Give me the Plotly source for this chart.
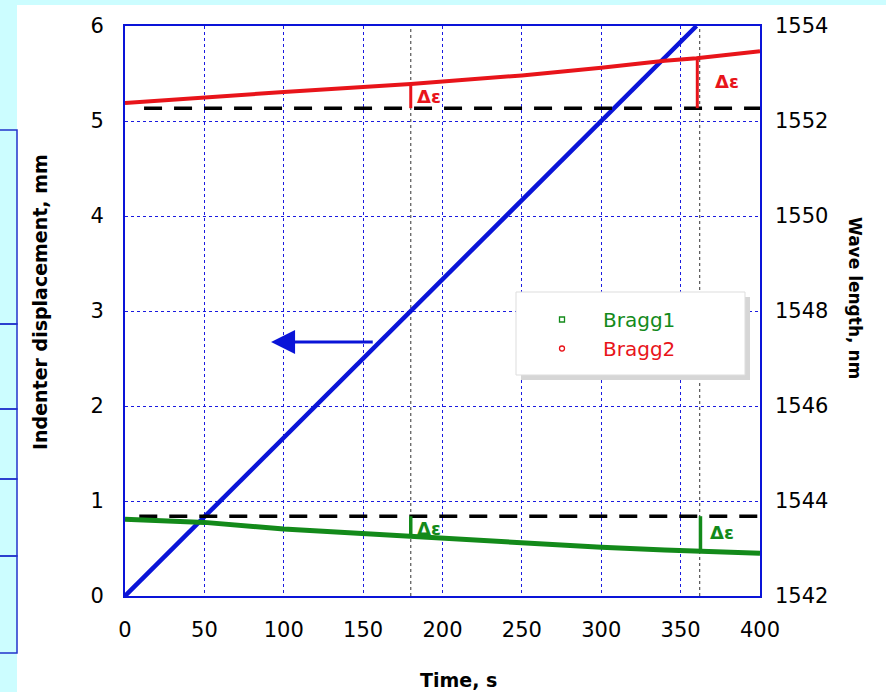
import plotly.graph_objects as go

# ---------------- data ----------------
time_disp = [0, 360]
displacement = [0, 6]

time_bragg = [0, 50, 100, 150, 180, 250, 300, 340, 360, 400]
bragg1 = [1543.615, 1543.55, 1543.41, 1543.31, 1543.25, 1543.11, 1543.025, 1542.97, 1542.947, 1542.90]
bragg2 = [1552.38, 1552.50, 1552.61, 1552.715, 1552.78, 1552.96, 1553.12, 1553.27, 1553.32, 1553.47]

base1_time = [9, 400]
base1 = [1543.68, 1543.68]
base2_time = [12, 400]
base2 = [1552.27, 1552.27]

# delta-epsilon markers: (time, baseline, value)
de_red = [(180, 1552.27, 1552.78), (360.5, 1552.27, 1553.32)]
de_green = [(180, 1543.68, 1543.25), (362.5, 1543.68, 1542.94)]
de_red_labels = [(191.5, 1552.51), (379, 1552.83)]
de_green_labels = [(191.5, 1543.43), (376, 1543.33)]

marker_times = [180, 362]

arrow_tail = (157, 2.674)
arrow_head = (92, 2.674)

x_ticks = [0, 50, 100, 150, 200, 250, 300, 350, 400]
y_ticks = [0, 1, 2, 3, 4, 5, 6]
y2_ticks = [1542, 1544, 1546, 1548, 1550, 1552, 1554]

FONT = "Comic Sans MS, DejaVu Sans, sans-serif"
BLUE = "#0a14d8"
RED = "#e8141a"
GREEN = "#138a1a"
GRID = "#1a1ae0"
PAGE = "#ccfdff"

fig = go.Figure()

# dashed baselines
fig.add_trace(go.Scatter(x=base1_time, y=base1, yaxis="y2", mode="lines",
                         line=dict(color="black", width=3.5, dash="18px,12px"),
                         showlegend=False, hoverinfo="skip"))
fig.add_trace(go.Scatter(x=base2_time, y=base2, yaxis="y2", mode="lines",
                         line=dict(color="black", width=3.5, dash="18px,12px"),
                         showlegend=False, hoverinfo="skip"))

# Bragg series
fig.add_trace(go.Scatter(x=time_bragg, y=bragg1, yaxis="y2", mode="lines",
                         line=dict(color=GREEN, width=5), showlegend=False))
fig.add_trace(go.Scatter(x=time_bragg, y=bragg2, yaxis="y2", mode="lines",
                         line=dict(color=RED, width=4), showlegend=False))

# delta-eps vertical bars
for t, b, v in de_red:
    fig.add_trace(go.Scatter(x=[t, t], y=[b, v], yaxis="y2", mode="lines",
                             line=dict(color=RED, width=3), showlegend=False, hoverinfo="skip"))
for t, b, v in de_green:
    fig.add_trace(go.Scatter(x=[t, t], y=[b, v], yaxis="y2", mode="lines",
                             line=dict(color=GREEN, width=3.5), showlegend=False, hoverinfo="skip"))

# displacement
fig.add_trace(go.Scatter(x=time_disp, y=displacement, mode="lines",
                         line=dict(color=BLUE, width=4.5), showlegend=False))

# legend entries
fig.add_trace(go.Scatter(x=[None], y=[None], mode="markers",
                         name="<span style='color:%s'>Bragg1</span>" % GREEN,
                         marker=dict(symbol="square-open", size=5, color=GREEN, line=dict(width=1.3))))
fig.add_trace(go.Scatter(x=[None], y=[None], mode="markers",
                         name="<span style='color:%s'>Bragg2</span>" % RED,
                         marker=dict(symbol="circle-open", size=5, color=RED, line=dict(width=1.3))))

annotations = []
for (t, w) in de_red_labels:
    annotations.append(dict(x=t, y=w, xref="x", yref="y2", text="<b>Δε</b>", showarrow=False,
                            font=dict(family=FONT, size=18, color=RED)))
for (t, w) in de_green_labels:
    annotations.append(dict(x=t, y=w, xref="x", yref="y2", text="<b>Δε</b>", showarrow=False,
                            font=dict(family=FONT, size=18, color=GREEN)))
annotations.append(dict(x=arrow_head[0], y=arrow_head[1], ax=arrow_tail[0], ay=arrow_tail[1],
                        xref="x", yref="y", axref="x", ayref="y", text="", showarrow=True,
                        arrowhead=2, arrowsize=1.6, arrowwidth=3, arrowcolor=BLUE))
annotations.append(dict(x=(855 - 125) / 635, y=(596 - 298) / 570, xref="paper", yref="paper",
                        xanchor="center", yanchor="middle",
                        text="<b>Wave length, nm</b>",
                        textangle=90, showarrow=False, font=dict(family=FONT, size=17, color="black")))
annotations.append(dict(x=(40 - 125) / 635, y=(596 - 302) / 570, xref="paper", yref="paper",
                        xanchor="center", yanchor="middle",
                        text="<b>Indenter displacement, mm</b>",
                        textangle=-90, showarrow=False, font=dict(family=FONT, size=19, color="black")))
annotations.append(dict(x=(458 - 125) / 635, y=(596 - 680) / 570, xref="paper", yref="paper",
                        xanchor="center", yanchor="middle",
                        text="<b>Time, s</b>",
                        showarrow=False, font=dict(family=FONT, size=19, color="black")))

# page decorations + reference lines (all shapes in one list)
shapes = [
    dict(type="rect", xref="paper", yref="paper", x0=(17 - 125) / 635, x1=1.25, y0=-0.25,
         y1=(596 - 5) / 570, fillcolor="white", line=dict(width=0), layer="below"),
]
for t in marker_times:
    shapes.append(dict(type="line", xref="x", yref="y", x0=t, x1=t, y0=0, y1=6,
                       line=dict(color="#555555", width=1.2, dash="dot"), layer="below"))
box_y = [130, 324, 409, 479, 556, 653]
for i in range(len(box_y) - 1):
    shapes.append(dict(type="rect", xref="paper", yref="paper",
                       x0=(-10 - 125) / 635, x1=(17 - 125) / 635,
                       y0=(596 - box_y[i + 1]) / 570, y1=(596 - box_y[i]) / 570,
                       line=dict(color="#2233cc", width=1.5), fillcolor="rgba(0,0,0,0)", layer="above"))
# legend box with shadow
lx0, lx1, ly0, ly1 = 516, 745, 292, 375
shapes.append(dict(type="rect", xref="paper", yref="paper",
                   x0=(lx0 + 5 - 125) / 635, x1=(lx1 + 5 - 125) / 635,
                   y0=(596 - ly1 - 5) / 570, y1=(596 - ly0 - 5) / 570,
                   fillcolor="#d6d6d6", line=dict(width=0), layer="above"))
shapes.append(dict(type="rect", xref="paper", yref="paper",
                   x0=(lx0 - 125) / 635, x1=(lx1 - 125) / 635,
                   y0=(596 - ly1) / 570, y1=(596 - ly0) / 570,
                   fillcolor="white", line=dict(color="#dddddd", width=1), layer="above"))

fig.update_layout(
    width=886, height=692,
    margin=dict(l=125, r=126, t=26, b=96, autoexpand=False),
    paper_bgcolor=PAGE,
    plot_bgcolor="white",
    font=dict(family=FONT, size=21, color="black"),
    showlegend=True,
    legend=dict(x=(521 - 125) / 635, y=(596 - 300) / 570, xanchor="left", yanchor="top",
                bgcolor="rgba(0,0,0,0)", borderwidth=0, itemwidth=72,
                font=dict(family=FONT, size=20), tracegroupgap=0),
    xaxis=dict(range=[0, 400], tickvals=x_ticks, showgrid=True, gridcolor=GRID, griddash="dot",
               gridwidth=1, showline=True, linecolor=BLUE, linewidth=2, mirror=True,
               zeroline=False, ticks="", ticklen=0, automargin=False, ticklabelstandoff=14),
    yaxis=dict(range=[0, 6], tickvals=y_ticks, showgrid=True, gridcolor=GRID, griddash="dot",
               gridwidth=1, showline=True, linecolor=BLUE, linewidth=2, mirror=True,
               zeroline=False, ticks="", ticklabelstandoff=15, automargin=False),
    yaxis2=dict(range=[1542, 1554], tickvals=y2_ticks, overlaying="y", side="right", automargin=False,
                showgrid=False, zeroline=False, showline=False, ticks="", ticklabelstandoff=14),
    shapes=shapes,
    annotations=annotations,
)

fig.write_html("out.html", config={"displayModeBar": False},
               post_script="document.body.style.margin='0';document.body.style.padding='0';"
                           "document.body.style.background='%s';document.body.style.overflow='hidden';" % PAGE)
